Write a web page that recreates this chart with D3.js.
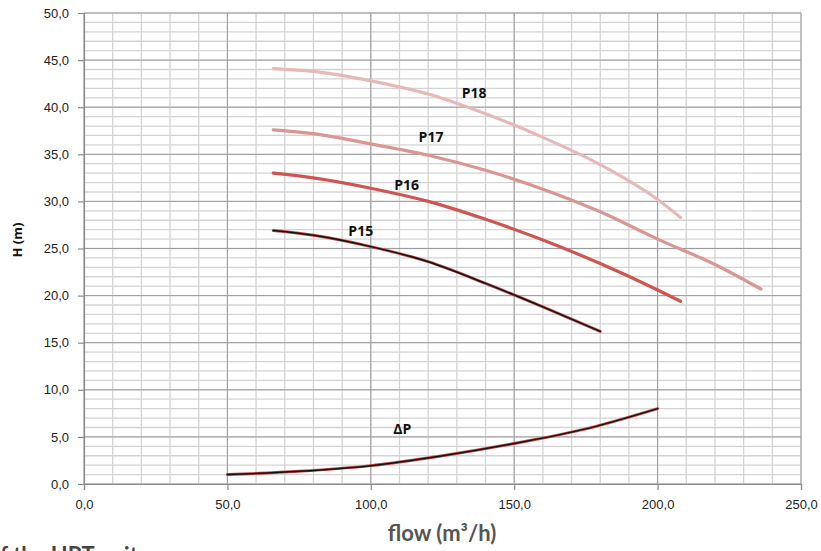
<!DOCTYPE html>
<meta charset="utf-8">
<style>
body { margin: 0; background: #fff; }
svg { display: block; font-family: "Open Sans", "Liberation Sans", sans-serif; }
.tick text { font-size: 13px; fill: #222; }
.lbl { font-weight: bold; font-size: 14px; fill: #111; }
</style>
<svg width="821" height="551" id="chart"></svg>
<script src="https://d3js.org/d3.v7.min.js"></script>
<script>
// curve points (flow m3/h, head m)
var p18 = [[66,44.1],[80,43.8],[100,42.8],[120,41.4],[140,39.3],[160,36.8],[180,33.9],[200,30.2],[208,28.3]];
var p17 = [[66,37.6],[80,37.2],[100,36.1],[120,34.9],[140,33.3],[160,31.3],[180,28.9],[200,26.0],[220,23.3],[236,20.7]];
var p16 = [[66,33.0],[80,32.5],[100,31.4],[120,30.0],[140,28.1],[160,25.9],[180,23.4],[200,20.6],[208,19.4]];
var p15 = [[66,26.9],[80,26.4],[100,25.2],[120,23.6],[140,21.3],[160,18.8],[180,16.2]];
var dp  = [[50,1.0],[75,1.35],[100,1.95],[125,3.0],[150,4.3],[175,5.85],[200,8.0]];

var labels = [
  {t:"P18", x:136, y:41.5},
  {t:"P17", x:121, y:36.8},
  {t:"P16", x:112.5, y:31.7},
  {t:"P15", x:96.5, y:26.8},
  {t:"\u0394P", x:111, y:5.8}
];

var svg = d3.select("#chart");
var x = d3.scaleLinear().domain([0,250]).range([84,801]);
var y = d3.scaleLinear().domain([0,50]).range([484,13]);
var fmt = function(d){ return d3.format(".1f")(d).replace(".", ","); };

// minor grid
svg.append("g").selectAll("line").data(d3.range(0,251,10)).enter().append("line")
  .attr("x1", x).attr("x2", x).attr("y1", y(0)).attr("y2", y(50))
  .attr("stroke", "#d4d4d4").attr("stroke-width", 1.3);
svg.append("g").selectAll("line").data(d3.range(0,51,1)).enter().append("line")
  .attr("y1", y).attr("y2", y).attr("x1", x(0)).attr("x2", x(250))
  .attr("stroke", "#d4d4d4").attr("stroke-width", 1.3);
// major grid
svg.append("g").selectAll("line").data(d3.range(0,251,50)).enter().append("line")
  .attr("x1", x).attr("x2", x).attr("y1", y(0)).attr("y2", y(50))
  .attr("stroke", "#9c9c9c").attr("stroke-width", 1);
svg.append("g").selectAll("line").data(d3.range(0,51,5)).enter().append("line")
  .attr("y1", y).attr("y2", y).attr("x1", x(0)).attr("x2", x(250))
  .attr("stroke", "#9c9c9c").attr("stroke-width", 1);

// axes
var xAxis = svg.append("g").attr("transform", "translate(0," + y(0) + ")")
  .call(d3.axisBottom(x).tickValues(d3.range(0,251,50)).tickFormat(fmt).tickSize(6).tickPadding(10));
var yAxis = svg.append("g").attr("transform", "translate(" + x(0) + ",0)")
  .call(d3.axisLeft(y).tickValues(d3.range(0,51,5)).tickFormat(fmt).tickSize(6).tickPadding(9));
[xAxis, yAxis].forEach(function(a){
  a.selectAll("path,line").attr("stroke", "#8c8c8c").attr("stroke-width", 1.2);
});

var line = d3.line().x(function(d){ return x(d[0]); }).y(function(d){ return y(d[1]); })
  .curve(d3.curveMonotoneX);

function draw(data, color, w) {
  svg.append("path").datum(data).attr("d", line)
    .attr("fill", "none").attr("stroke", color).attr("stroke-width", w)
    .attr("stroke-linecap", "round");
}
draw(p18, "#e6b9b8", 3.2);
draw(p17, "#d99694", 3.2);
draw(p16, "#cd5652", 3.2);
draw(p15, "#c0504d", 3);
draw(p15, "#111", 1.5);
draw(dp, "#c0504d", 3);
draw(dp, "#111", 1.5);

svg.append("g").selectAll("text").data(labels).enter().append("text")
  .attr("class", "lbl")
  .attr("x", function(d){ return x(d.x); })
  .attr("y", function(d){ return y(d.y); })
  .attr("text-anchor", "middle").attr("dy", "0.35em")
  .text(function(d){ return d.t; });

// axis titles
svg.append("text").attr("transform", "translate(22,240) rotate(-90)")
  .attr("text-anchor", "middle").attr("font-weight", "bold").attr("font-size", 13)
  .attr("fill", "#111").text("H (m)");
svg.append("text").attr("x", 442).attr("y", 541)
  .attr("text-anchor", "middle").attr("font-family", "Lato, sans-serif")
  .attr("font-weight", "bold").attr("font-size", 22).attr("fill", "#555")
  .text("flow (m\u00b3/h)");
svg.append("text").attr("x", -12).attr("y", 563)
  .attr("font-family", "Lato, sans-serif").attr("font-weight", "bold")
  .attr("font-size", 22).attr("fill", "#444")
  .text("of the HPT unit");
</script>
